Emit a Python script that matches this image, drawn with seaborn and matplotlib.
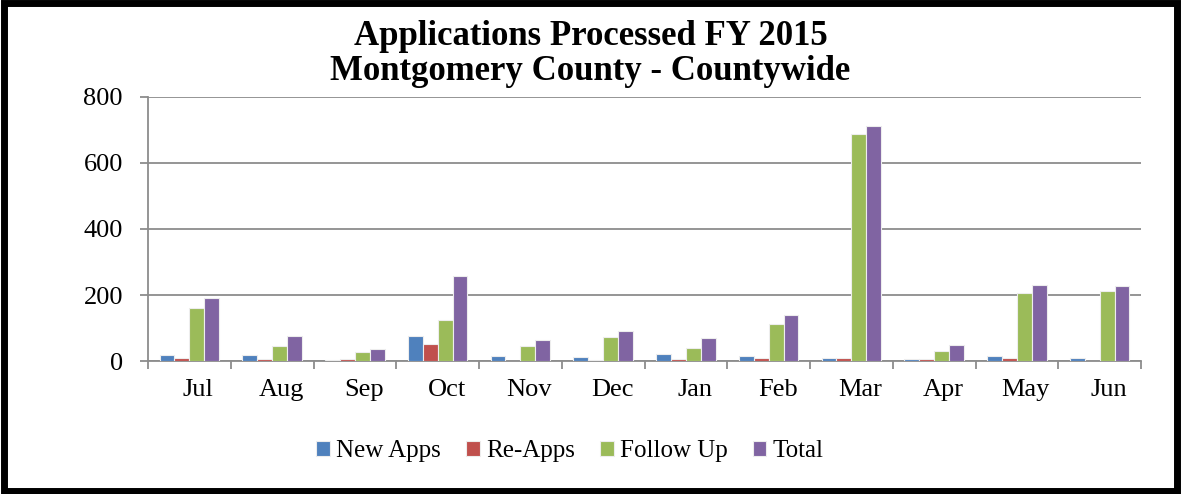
import pandas as pd
import numpy as np
import seaborn as sns
import matplotlib.pyplot as plt
from matplotlib.patches import Rectangle
from matplotlib.transforms import ScaledTranslation

# data
months = ['Jul', 'Aug', 'Sep', 'Oct', 'Nov', 'Dec', 'Jan', 'Feb', 'Mar', 'Apr', 'May', 'Jun']
new_apps = [18, 18, 2, 76, 16, 11, 20, 16, 8, 5, 14, 10]
re_apps = [8, 7, 5, 52, 0, 2, 5, 8, 10, 6, 8, 1]
follow_up = [160, 45, 26, 124, 45, 72, 40, 112, 689, 31, 205, 211]
total = [192, 75, 37, 257, 65, 92, 69, 140, 711, 50, 230, 227]
series = ['New Apps', 'Re-Apps', 'Follow Up', 'Total']
colors = ['#4F81BD', '#C0504D', '#9BBB59', '#8064A2']

df = pd.DataFrame({'Month': months, 'New Apps': new_apps, 'Re-Apps': re_apps,
                   'Follow Up': follow_up, 'Total': total})
long = df.melt(id_vars='Month', var_name='Series', value_name='Count')

sns.set_style('white')
plt.rcParams['font.family'] = ['Liberation Serif', 'DejaVu Serif']
plt.rcParams['text.color'] = 'black'
plt.rcParams['xtick.color'] = 'black'
plt.rcParams['ytick.color'] = 'black'

fig = plt.figure(figsize=(11.81, 4.94), dpi=100)
ax = fig.add_axes([148 / 1181, 1 - 361 / 494, (1141 - 148) / 1181, (361 - 97) / 494])

sns.barplot(data=long, x='Month', y='Count', hue='Series', hue_order=series,
            palette=colors, saturation=1, width=0.72, edgecolor='#EDEDED',
            linewidth=0.8, ax=ax, zorder=3)

ax.set_ylim(0, 800)
ax.set_yticks([0, 200, 400, 600, 800])
ax.set_xlim(-0.5, 11.5)
ax.yaxis.grid(True, color='#8C8C8C', linewidth=1.3, zorder=0)
for s in ['top', 'right']:
    ax.spines[s].set_visible(False)
for s in ['left', 'bottom']:
    ax.spines[s].set_color('#8C8C8C')
    ax.spines[s].set_linewidth(1.3)

# category boundary ticks on x, labels a bit right of centre like the original
ax.set_xticks(np.arange(-0.5, 12, 1), minor=True)
ax.tick_params(axis='x', which='minor', length=6, color='#8C8C8C', width=1.3, bottom=True)
ax.tick_params(axis='x', which='major', length=0, labelsize=19, pad=13)
ax.tick_params(axis='y', which='major', length=6, color='#8C8C8C', width=1.3, left=True,
               labelsize=19, pad=12)
shift = ScaledTranslation(9 / 100, 0, fig.dpi_scale_trans)
for lab in ax.get_xticklabels():
    lab.set_transform(lab.get_transform() + shift)
ax.set_xlabel('')
ax.set_ylabel('')

fig.text(0.5, 1 - 54 / 494, 'Applications Processed FY 2015\nMontgomery County - Countywide',
         ha='center', va='center', fontsize=25, fontweight='bold', linespacing=1.1)

handles, labels = ax.get_legend_handles_labels()
ax.get_legend().remove()
fig.legend(handles, labels, loc='center', bbox_to_anchor=(570 / 1181, 1 - 451 / 494), ncol=4,
           frameon=False, fontsize=18, handlelength=0.55, handleheight=0.55,
           handletextpad=0.25, columnspacing=1.0)

fig.patches.append(Rectangle((0.003, 0.006), 0.994, 0.988, transform=fig.transFigure,
                             fill=False, edgecolor='black', linewidth=5))

fig.savefig('out.png', dpi=100)
